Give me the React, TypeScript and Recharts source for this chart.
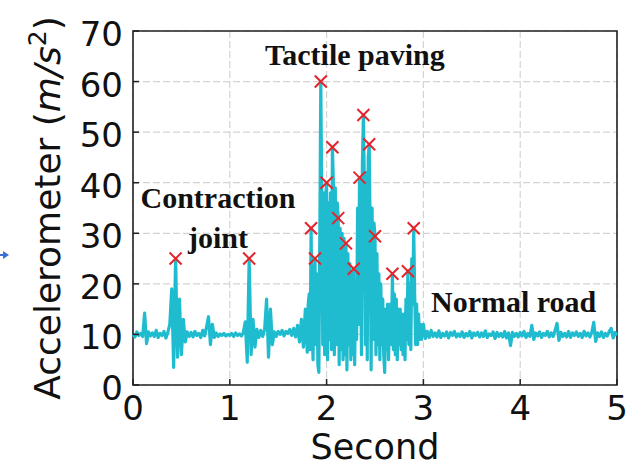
import React from "react";
import {
  ComposedChart,
  Line,
  Scatter,
  XAxis,
  YAxis,
  CartesianGrid,
  ReferenceArea,
} from "recharts";

// the trace is stored in three segments; the tactile paving part is sampled finer
const PRE_START = 0;
const PRE_STEP = 0.02;
const TACTILE_START = 1.8;
const TACTILE_STEP = 0.01;
const POST_START = 3.0;
const POST_STEP = 0.02;

// acceleration magnitude (m/s^2), 0.00 s .. 1.78 s
const accelPre: number[] = [
  // 0.00 - 0.18
  10, 9.5, 10.5, 9.8, 10.2, 9.6, 14.2, 8.2, 10.5, 9.7,
  // 0.20 - 0.38
  10.3, 9.6, 10.8, 9.4, 10.2, 9.8, 10.6, 9.3, 10.4, 12,
  // 0.40 - 0.58 (contraction joint)
  19, 3.5, 25, 5.5, 17, 6, 13, 8.5, 10.5, 9.6,
  // 0.60 - 0.78
  10.4, 9.5, 10.6, 9.8, 10.2, 9.4, 10.8, 9.7, 11.5, 13.5,
  // 0.80 - 0.98
  8, 12, 9.4, 10.3, 9.6, 10.1, 9.8, 10.2, 9.7, 10.0,
  // 1.00 - 1.18
  9.8, 10.2, 9.6, 10.3, 9.8, 10.1, 9.7, 10.4, 12.5, 4.5,
  // 1.20 - 1.38
  25, 6, 13, 7.5, 11, 9.4, 10.8, 9.6, 11, 17,
  // 1.40 - 1.58
  5.5, 15, 8, 10.5, 9.6, 10.6, 10.0, 10.8, 9.7, 10.6,
  // 1.60 - 1.78
  10.2, 11.0, 9.8, 11.2, 9.5, 11.8, 8.5, 13, 7.5, 15,
];

// 1.80 s .. 2.99 s (tactile paving)
const accelTactile: number[] = [
  6.5, 16, 18, 7, 31, 12, 5, 20, 25, 8,
  22, 4, 2.5, 30, 60, 36, 8, 38, 6, 37,
  40, 5, 36, 9, 38, 7, 47, 40, 6, 39,
  8, 36, 33, 4, 31, 7, 30, 5, 29, 6,
  28, 3, 26, 8, 24, 5, 22, 6, 23, 4,
  20, 9, 35, 12, 41, 30, 6, 44, 53.4, 40,
  8, 42, 5, 45, 47.6, 30, 3, 35, 9, 32,
  29.4, 6, 26, 8, 22, 5, 20, 8, 17, 6,
  2.5, 15, 7, 16, 5, 14, 16, 8, 22, 7,
  18, 6, 17, 5, 15, 8, 15, 7, 14, 6,
  14, 5, 17, 9, 22.5, 8, 20, 7, 25, 16,
  31, 18, 8, 16, 8, 14, 9, 12, 9, 11,
];

// 3.00 s .. 5.00 s (normal road)
const accelPost: number[] = [
  // 3.00 - 3.18
  12, 9.2, 10.6, 9.4, 10.8, 9.6, 10.3, 9.5, 10.7, 9.4,
  // 3.20 - 3.38
  10.2, 9.7, 10.5, 9.3, 10.4, 9.8, 10.6, 9.5, 10.1, 9.6,
  // 3.40 - 3.58
  10.5, 9.4, 10.2, 9.7, 10.6, 9.3, 10.3, 9.8, 10.4, 9.5,
  // 3.60 - 3.78
  10.3, 9.6, 10.7, 9.4, 10.1, 9.8, 10.5, 9.2, 10.4, 9.6,
  // 3.80 - 3.98
  10.2, 9.5, 10.6, 9.3, 10.3, 7.8, 10.4, 9.6, 10.2, 9.5,
  // 4.00 - 4.18
  10.4, 9.7, 10.6, 9.4, 10.2, 9.6, 11.8, 9.0, 10.3, 9.7,
  // 4.20 - 4.38
  10.5, 9.4, 10.2, 9.8, 10.6, 9.5, 10.3, 9.6, 10.8, 12.2,
  // 4.40 - 4.58
  8.8, 10.4, 9.6, 10.2, 9.5, 10.6, 9.4, 10.3, 9.8, 10.5,
  // 4.60 - 4.78
  9.6, 10.2, 9.4, 10.6, 9.7, 10.3, 9.5, 10.4, 12.4, 8.6,
  // 4.80 - 5.00
  10.3, 9.6, 10.5, 9.4, 10.2, 9.7, 10.6, 11.2, 9.3, 10.4, 9.8,
];

// detected peaks (red crosses)
const peakTimes = [
  0.44, 1.2, 1.84, 1.88, 1.94, 2.0, 2.06, 2.12, 2.2, 2.28, 2.34, 2.38, 2.44,
  2.5, 2.68, 2.84, 2.9,
];
const peakValues = [
  25, 25, 31, 25, 60, 40, 47, 33, 28, 23, 41, 53.4, 47.6, 29.4, 22, 22.5, 31,
];

const xTicks = [0, 1, 2, 3, 4, 5];
const yTicks = [0, 10, 20, 30, 40, 50, 60, 70];

const segment = (vals: number[], start: number, step: number) =>
  vals.map((a, i) => ({ t: Math.round((start + i * step) * 1000) / 1000, a }));

const series = [
  ...segment(accelPre, PRE_START, PRE_STEP),
  ...segment(accelTactile, TACTILE_START, TACTILE_STEP),
  ...segment(accelPost, POST_START, POST_STEP),
];
const peaks = peakTimes.map((t, i) => ({ t, v: peakValues[i] }));

const TICK_FONT = "'DejaVu Sans', sans-serif";
const NOTE_FONT = "'Liberation Serif', 'Times New Roman', serif";

function XTick(props: any) {
  const { x, y, payload } = props;
  return (
    <g>
      <line x1={x} y1={y} x2={x} y2={y - 6} stroke="#222" strokeWidth={1.5} />
      <text
        x={x}
        y={y + 35}
        textAnchor="middle"
        fontSize={34}
        fontFamily={TICK_FONT}
        fill="#111"
      >
        {payload.value}
      </text>
    </g>
  );
}

function YTick(props: any) {
  const { x, y, payload } = props;
  return (
    <g>
      <line x1={x} y1={y} x2={x + 6} y2={y} stroke="#222" strokeWidth={1.5} />
      <text
        x={x - 10}
        y={y + 15}
        textAnchor="end"
        fontSize={34}
        fontFamily={TICK_FONT}
        fill="#111"
      >
        {payload.value}
      </text>
    </g>
  );
}

function Cross(props: any) {
  const { cx, cy } = props;
  const r = 6;
  return (
    <g stroke="#e3242b" strokeWidth={2}>
      <line x1={cx - r} y1={cy - r} x2={cx + r} y2={cy + r} />
      <line x1={cx - r} y1={cy + r} x2={cx + r} y2={cy - r} />
    </g>
  );
}

export default function App() {
  return (
    <div
      style={{
        position: "absolute",
        left: 0,
        top: 0,
        width: 628,
        height: 468,
        background: "#fff",
      }}
    >
      <ComposedChart
        width={628}
        height={468}
        data={series}
        margin={{ top: 31, right: 11, bottom: 23, left: 0 }}
      >
        <CartesianGrid
          stroke="#d4d4d4"
          strokeWidth={1.2}
          strokeDasharray="7 3"
        />
        <XAxis
          dataKey="t"
          type="number"
          domain={[0, 5]}
          ticks={xTicks}
          height={60}
          tickSize={0}
          tickMargin={0}
          axisLine={false}
          tick={<XTick />}
          interval={0}
        />
        <YAxis
          type="number"
          domain={[0, 70]}
          ticks={yTicks}
          width={133}
          tickSize={0}
          tickMargin={0}
          axisLine={false}
          tick={<YTick />}
          interval={0}
        />
        <Line
          dataKey="a"
          type="linear"
          stroke="#1fbccf"
          strokeWidth={3.2}
          strokeLinejoin="round"
          dot={false}
          isAnimationActive={false}
        />
        <Scatter
          data={peaks}
          dataKey="v"
          shape={<Cross />}
          isAnimationActive={false}
        />
        <ReferenceArea
          x1={0}
          x2={5}
          y1={0}
          y2={70}
          fill="none"
          fillOpacity={0}
          stroke="#222"
          strokeWidth={1.6}
          ifOverflow="visible"
        />
      </ComposedChart>
      <svg
        width={628}
        height={468}
        style={{ position: "absolute", left: 0, top: 0, pointerEvents: "none" }}
      >
        <g fontFamily={NOTE_FONT} fontWeight="bold" fontSize={30} fill="#111">
          <text x={265} y={65}>Tactile paving</text>
          <text x={218} y={208} textAnchor="middle">Contraction</text>
          <text x={218} y={248} textAnchor="middle">joint</text>
          <text x={431} y={312}>Normal road</text>
        </g>
        <text
          x={375}
          y={459}
          textAnchor="middle"
          fontSize={35}
          fontFamily={TICK_FONT}
          fill="#111"
        >
          Second
        </text>
        <text
          transform="translate(60,208) rotate(-90)"
          textAnchor="middle"
          fontSize={36}
          fontFamily={TICK_FONT}
          fill="#111"
        >
          Accelerometer (<tspan fontStyle="italic">m</tspan>
          <tspan fontStyle="italic">/s</tspan>
          <tspan dy={-14} fontSize={25}>
            2
          </tspan>
          <tspan dy={14}>)</tspan>
        </text>
        <line x1={0} y1={255} x2={5} y2={255} stroke="#3b6fd6" strokeWidth={2} />
        <path d="M3,251 L9,255 L3,259 Z" fill="#3b6fd6" />
      </svg>
    </div>
  );
}
